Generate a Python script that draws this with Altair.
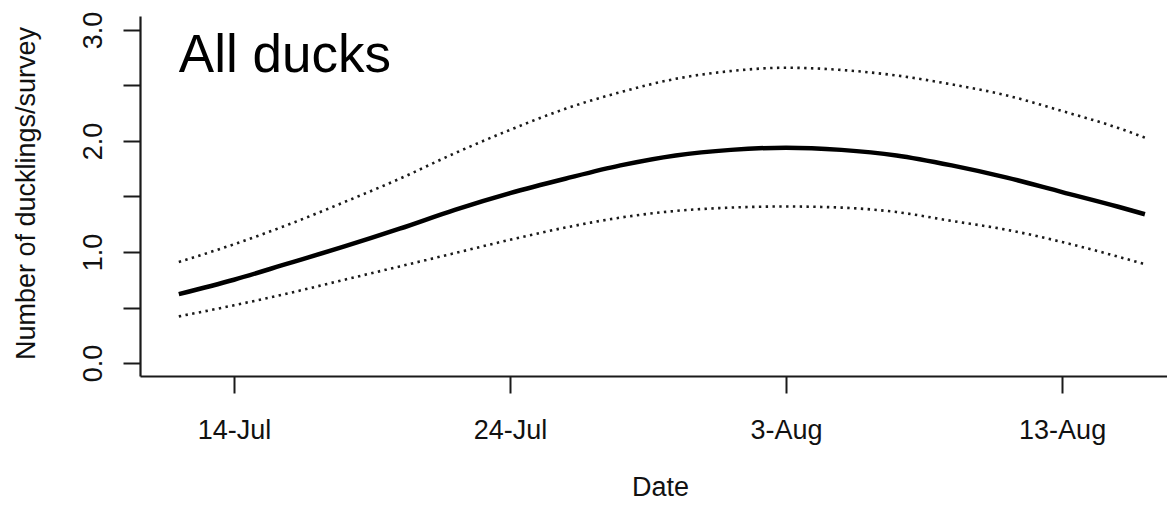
import altair as alt
import pandas as pd

# ---- data ----
dates = ["2015-07-12", "2015-07-14", "2015-07-16", "2015-07-18", "2015-07-20",
         "2015-07-22", "2015-07-24", "2015-07-26", "2015-07-28", "2015-07-30",
         "2015-08-01", "2015-08-03", "2015-08-05", "2015-08-07", "2015-08-09",
         "2015-08-11", "2015-08-13", "2015-08-15", "2015-08-16"]
mean_vals = [0.62, 0.75, 0.90, 1.05, 1.21, 1.38, 1.53, 1.66, 1.78, 1.87,
             1.92, 1.94, 1.92, 1.87, 1.78, 1.67, 1.54, 1.41, 1.34]
upper_vals = [0.91, 1.07, 1.25, 1.45, 1.66, 1.89, 2.10, 2.29, 2.44, 2.56,
              2.63, 2.66, 2.64, 2.59, 2.51, 2.41, 2.27, 2.12, 2.03]
lower_vals = [0.42, 0.52, 0.63, 0.75, 0.87, 0.99, 1.11, 1.22, 1.31, 1.37,
              1.40, 1.41, 1.40, 1.36, 1.28, 1.20, 1.09, 0.96, 0.89]

x_tick_days = [14, 24, 34, 44]          # days counted from 30 June
x_tick_labels = ["14-Jul", "24-Jul", "3-Aug", "13-Aug"]
y_ticks = [0.0, 0.5, 1.0, 1.5, 2.0, 2.5, 3.0]

panel_label = "All ducks"
panel_label_day = 12
panel_label_value = 2.62
x_title = "Date"
y_title = "Number of ducklings/survey"

FONT = "Liberation Sans"
INK = "#111111"

origin = pd.Timestamp("2015-06-30")
days = [(pd.Timestamp(d) - origin).days for d in dates]
df = pd.DataFrame({"day": days, "mean": mean_vals,
                   "upper": upper_vals, "lower": lower_vals})
label_df = pd.DataFrame({"day": [panel_label_day], "v": [panel_label_value],
                         "t": [panel_label]})

xscale = alt.Scale(domain=[10.594, 47.80], nice=False, zero=False)
yscale = alt.Scale(domain=[-0.117, 3.126], nice=False, zero=False)

x_label_expr = ("[" + ",".join(f"'{l}'" for l in x_tick_labels) + "][indexof(["
                + ",".join(str(v) for v in x_tick_days) + "], datum.value)]")

xaxis = alt.Axis(values=x_tick_days, labelExpr=x_label_expr, title=x_title,
                 grid=False, domainColor="#1a1a1a", domainWidth=2.2,
                 tickColor="#1a1a1a", tickWidth=2, tickSize=17,
                 labelFont=FONT, labelFontSize=27, labelColor=INK,
                 labelBaseline="alphabetic", labelAlign="center", labelPadding=45,
                 labelFlush=False, labelOverlap=False,
                 titleFont=FONT, titleFontSize=27, titleFontWeight="normal",
                 titleColor=INK, titleX=520, titleY=119,
                 titleBaseline="alphabetic", titleAlign="center")

yaxis = alt.Axis(values=y_ticks,
                 labelExpr="datum.value % 1 == 0 ? format(datum.value, '.1f') : ''",
                 title=y_title, grid=False, domainColor="#1a1a1a", domainWidth=2.2,
                 tickColor="#1a1a1a", tickWidth=2, tickSize=17,
                 labelFont=FONT, labelFontSize=27, labelColor=INK,
                 labelAngle=-90, labelAlign="center", labelBaseline="alphabetic",
                 labelPadding=22, labelFlush=False, labelOverlap=False,
                 titleFont=FONT, titleFontSize=27, titleFontWeight="normal",
                 titleColor=INK, titleAngle=270, titleX=-106, titleY=177,
                 titleBaseline="alphabetic", titleAlign="center")

base = alt.Chart(df)

mean_line = base.mark_line(color="#000000", strokeWidth=4.5,
                           interpolate="monotone", clip=True).encode(
    x=alt.X("day:Q", scale=xscale, axis=xaxis),
    y=alt.Y("mean:Q", scale=yscale, axis=yaxis),
)
upper_line = base.mark_line(color="#1a1a1a", strokeWidth=2.6, strokeDash=[2.4, 4.4],
                            interpolate="monotone", clip=True).encode(
    x=alt.X("day:Q", scale=xscale),
    y=alt.Y("upper:Q", scale=yscale),
)
lower_line = base.mark_line(color="#1a1a1a", strokeWidth=2.6, strokeDash=[2.4, 4.4],
                            interpolate="monotone", clip=True).encode(
    x=alt.X("day:Q", scale=xscale),
    y=alt.Y("lower:Q", scale=yscale),
)
label = alt.Chart(label_df).mark_text(align="left", baseline="alphabetic",
                                      font=FONT, fontSize=53, color="#000000").encode(
    x=alt.X("day:Q", scale=xscale),
    y=alt.Y("v:Q", scale=yscale),
    text="t:N",
)

chart = alt.layer(mean_line, upper_line, lower_line, label).properties(
    width=1027, height=360,
    autosize=alt.AutoSizeParams(type="none"),
    padding={"left": 132, "top": 8, "right": 0, "bottom": 126},
    background="white",
).configure_view(stroke=None)

chart.save("out.html", embed_options={"renderer": "svg", "actions": False})
